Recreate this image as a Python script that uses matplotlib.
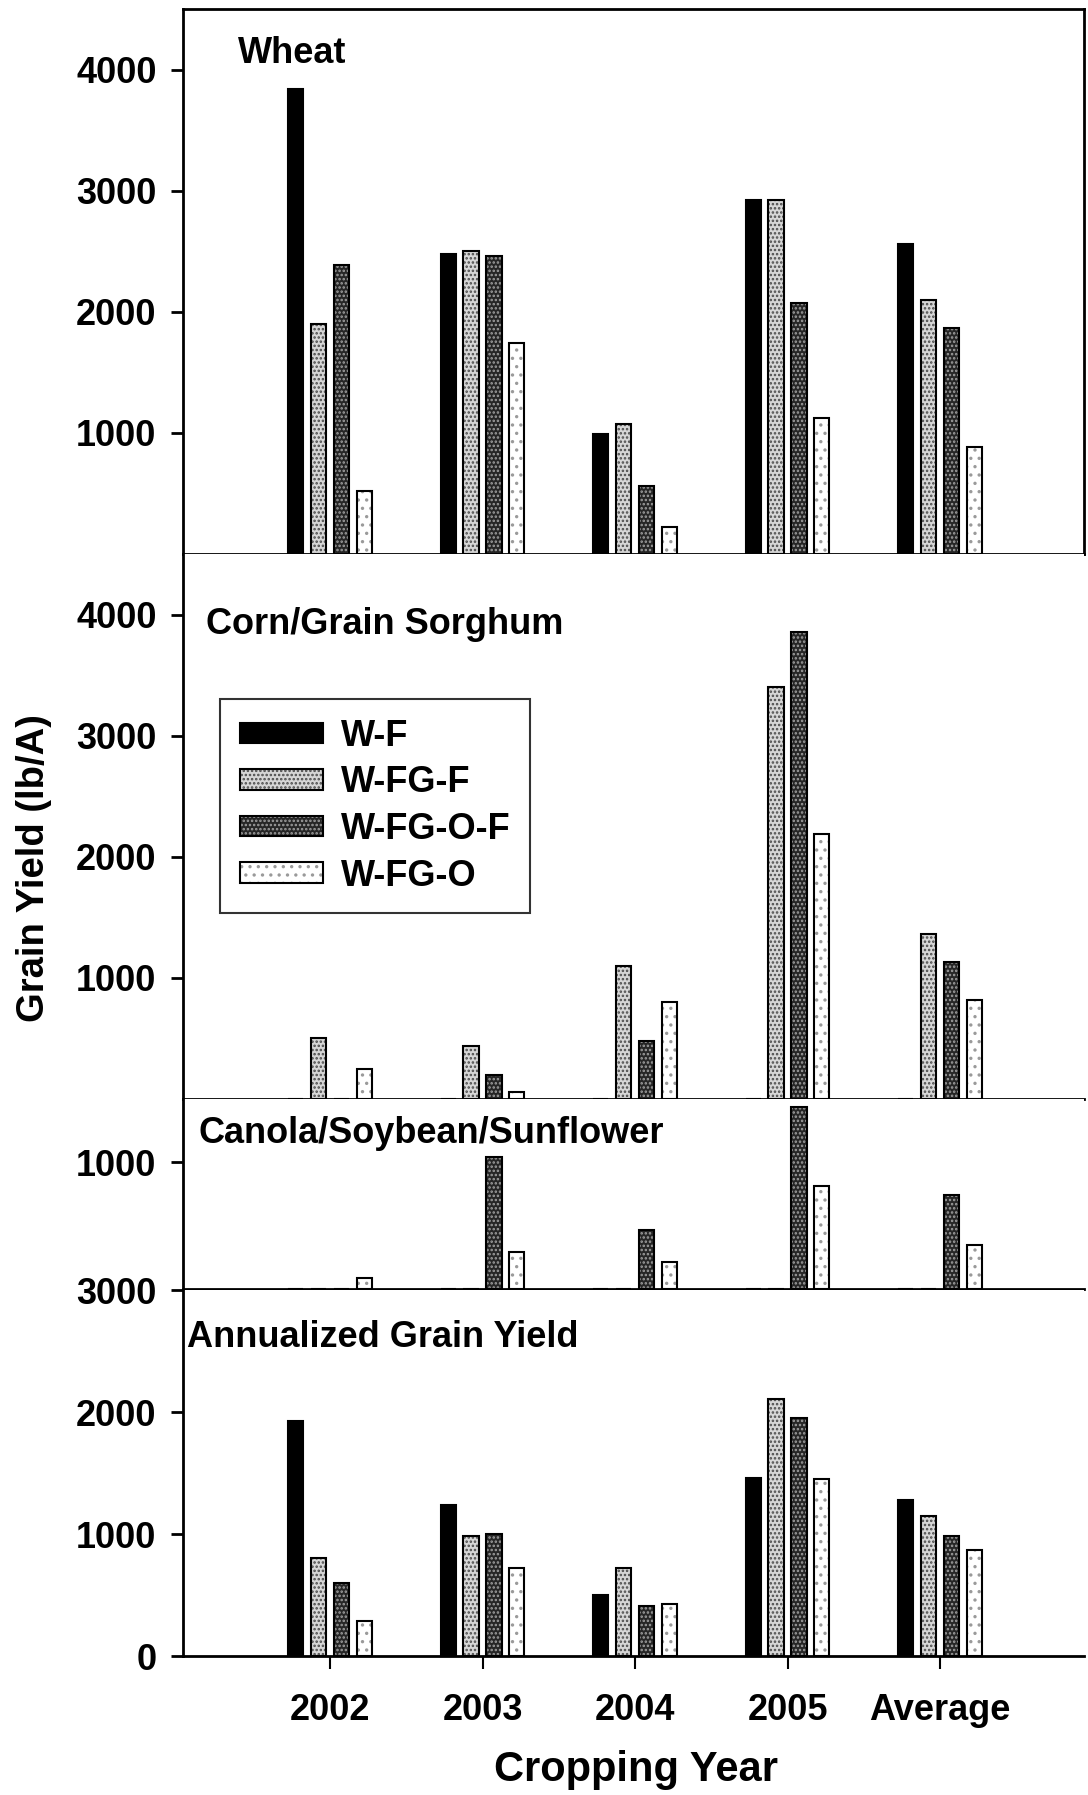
import numpy as np
import matplotlib
matplotlib.use("Agg")
import matplotlib.pyplot as plt
from matplotlib.legend_handler import HandlerTuple

plt.rcParams["font.family"] = ["Liberation Sans", "DejaVu Sans"]
plt.rcParams["font.weight"] = "bold"
plt.rcParams["hatch.linewidth"] = 1.2

years = ["2002", "2003", "2004", "2005", "Average"]
systems = ["W-F", "W-FG-F", "W-FG-O-F", "W-FG-O"]

# grain yield, lb/A, one list per rotation
wheat_wf = [3840, 2480, 990, 2920, 2560]
wheat_wfgf = [1900, 2500, 1070, 2920, 2100]
wheat_wfgof = [2390, 2460, 560, 2070, 1870]
wheat_wfgo = [520, 1740, 220, 1120, 880]

corn_wf = [0, 0, 0, 0, 0]
corn_wfgf = [500, 435, 1100, 3400, 1360]
corn_wfgof = [0, 195, 480, 3860, 1130]
corn_wfgo = [250, 60, 800, 2190, 820]

oil_wf = [0, 0, 0, 0, 0]
oil_wfgf = [0, 0, 0, 0, 0]
oil_wfgof = [0, 1040, 465, 1440, 740]
oil_wfgo = [90, 290, 210, 810, 350]

annual_wf = [1930, 1240, 500, 1460, 1280]
annual_wfgf = [800, 980, 720, 2110, 1150]
annual_wfgof = [600, 1000, 410, 1950, 985]
annual_wfgo = [290, 720, 430, 1450, 870]

W, H = 1088, 1795
OFFSETS = [-0.225, -0.075, 0.075, 0.225]
WIDTH = 0.1
STYLES = [
    {"face": "black", "hatch": None, "dots": "black"},
    {"face": "#d6d6d6", "hatch": "....", "dots": "#4a4a4a"},
    {"face": "#262626", "hatch": "....", "dots": "#a0a0a0"},
    {"face": "white", "hatch": "..", "dots": "#9a9a9a"},
]
FS = 26


def fx(px):
    return px / W


def fy(py):
    return 1 - py / H


def add_panel(fig, top, bottom):
    return fig.add_axes([fx(183), fy(bottom), (1084 - 183) / W, (bottom - top) / H])


def draw_panel(ax, series, ymax, yticks, show_x=False):
    x = np.arange(len(years))
    handles = []
    for i, vals in enumerate(series):
        st = STYLES[i]
        pos = x + OFFSETS[i]
        fill = ax.bar(pos, vals, WIDTH, color=st["face"], edgecolor=st["dots"],
                      hatch=st["hatch"], linewidth=0)
        edge = ax.bar(pos, vals, WIDTH, fill=False, edgecolor="black", linewidth=1.5)
        handles.append((fill.patches[0], edge.patches[0]))
    ax.set_xlim(-0.964, 4.944)
    ax.set_ylim(0, ymax)
    ax.set_yticks(yticks)
    ax.set_yticklabels([str(t) for t in yticks], fontsize=FS, fontweight="bold")
    ax.set_xticks(x)
    if show_x:
        ax.set_xticklabels(years, fontsize=FS, fontweight="bold")
    else:
        ax.set_xticklabels([])
    ax.tick_params(axis="y", direction="out", length=9, width=2, pad=10)
    ax.tick_params(axis="x", direction="out", length=9, width=1.5, pad=18)
    for side in ["left", "bottom", "top", "right"]:
        ax.spines[side].set_linewidth(2)
    ax.spines["top"].set_visible(False)
    ax.spines["right"].set_visible(False)
    return handles


fig = plt.figure(figsize=(W / 100, H / 100), dpi=100)

ax_wheat = add_panel(fig, 9, 554)
ax_corn = add_panel(fig, 554, 1099)
ax_oil = add_panel(fig, 1099, 1289)
ax_annual = add_panel(fig, 1290, 1656)

draw_panel(ax_wheat, [wheat_wf, wheat_wfgf, wheat_wfgof, wheat_wfgo], 4500,
           [1000, 2000, 3000, 4000])
ax_wheat.spines["top"].set_visible(True)
ax_wheat.spines["right"].set_visible(True)

handles = draw_panel(ax_corn, [corn_wf, corn_wfgf, corn_wfgof, corn_wfgo], 4500,
                     [1000, 2000, 3000, 4000])
draw_panel(ax_oil, [oil_wf, oil_wfgf, oil_wfgof, oil_wfgo], 1500, [1000])
draw_panel(ax_annual, [annual_wf, annual_wfgf, annual_wfgof, annual_wfgo], 3000,
           [0, 1000, 2000, 3000], show_x=True)

# panel titles
fig.text(fx(238), fy(63), "Wheat", fontsize=FS, fontweight="bold", va="baseline")
fig.text(fx(206), fy(634), "Corn/Grain Sorghum", fontsize=FS, fontweight="bold",
         va="baseline")
fig.text(fx(199), fy(1143), "Canola/Soybean/Sunflower", fontsize=FS,
         fontweight="bold", va="baseline")
fig.text(fx(187), fy(1347), "Annualized Grain Yield", fontsize=FS, fontweight="bold",
         va="baseline")

leg = ax_corn.legend(handles, systems, loc="upper left",
                     bbox_to_anchor=(fx(220), fy(699)), bbox_transform=fig.transFigure,
                     handler_map={tuple: HandlerTuple(ndivide=1, pad=0)},
                     prop={"size": FS, "weight": "bold"}, frameon=True, fancybox=False,
                     handlelength=2.3, handleheight=0.5, labelspacing=0.32,
                     borderpad=0.55, handletextpad=0.5, borderaxespad=0)
leg.get_frame().set_edgecolor("black")
leg.get_frame().set_linewidth(1.5)

fig.text(fx(34), fy(868), "Grain Yield (lb/A)", rotation=90, fontsize=27.5,
         fontweight="bold", ha="center", va="center")
fig.text(fx(636), fy(1770), "Cropping Year", fontsize=30, fontweight="bold",
         ha="center", va="center")

fig.savefig("out.png", dpi=100)
